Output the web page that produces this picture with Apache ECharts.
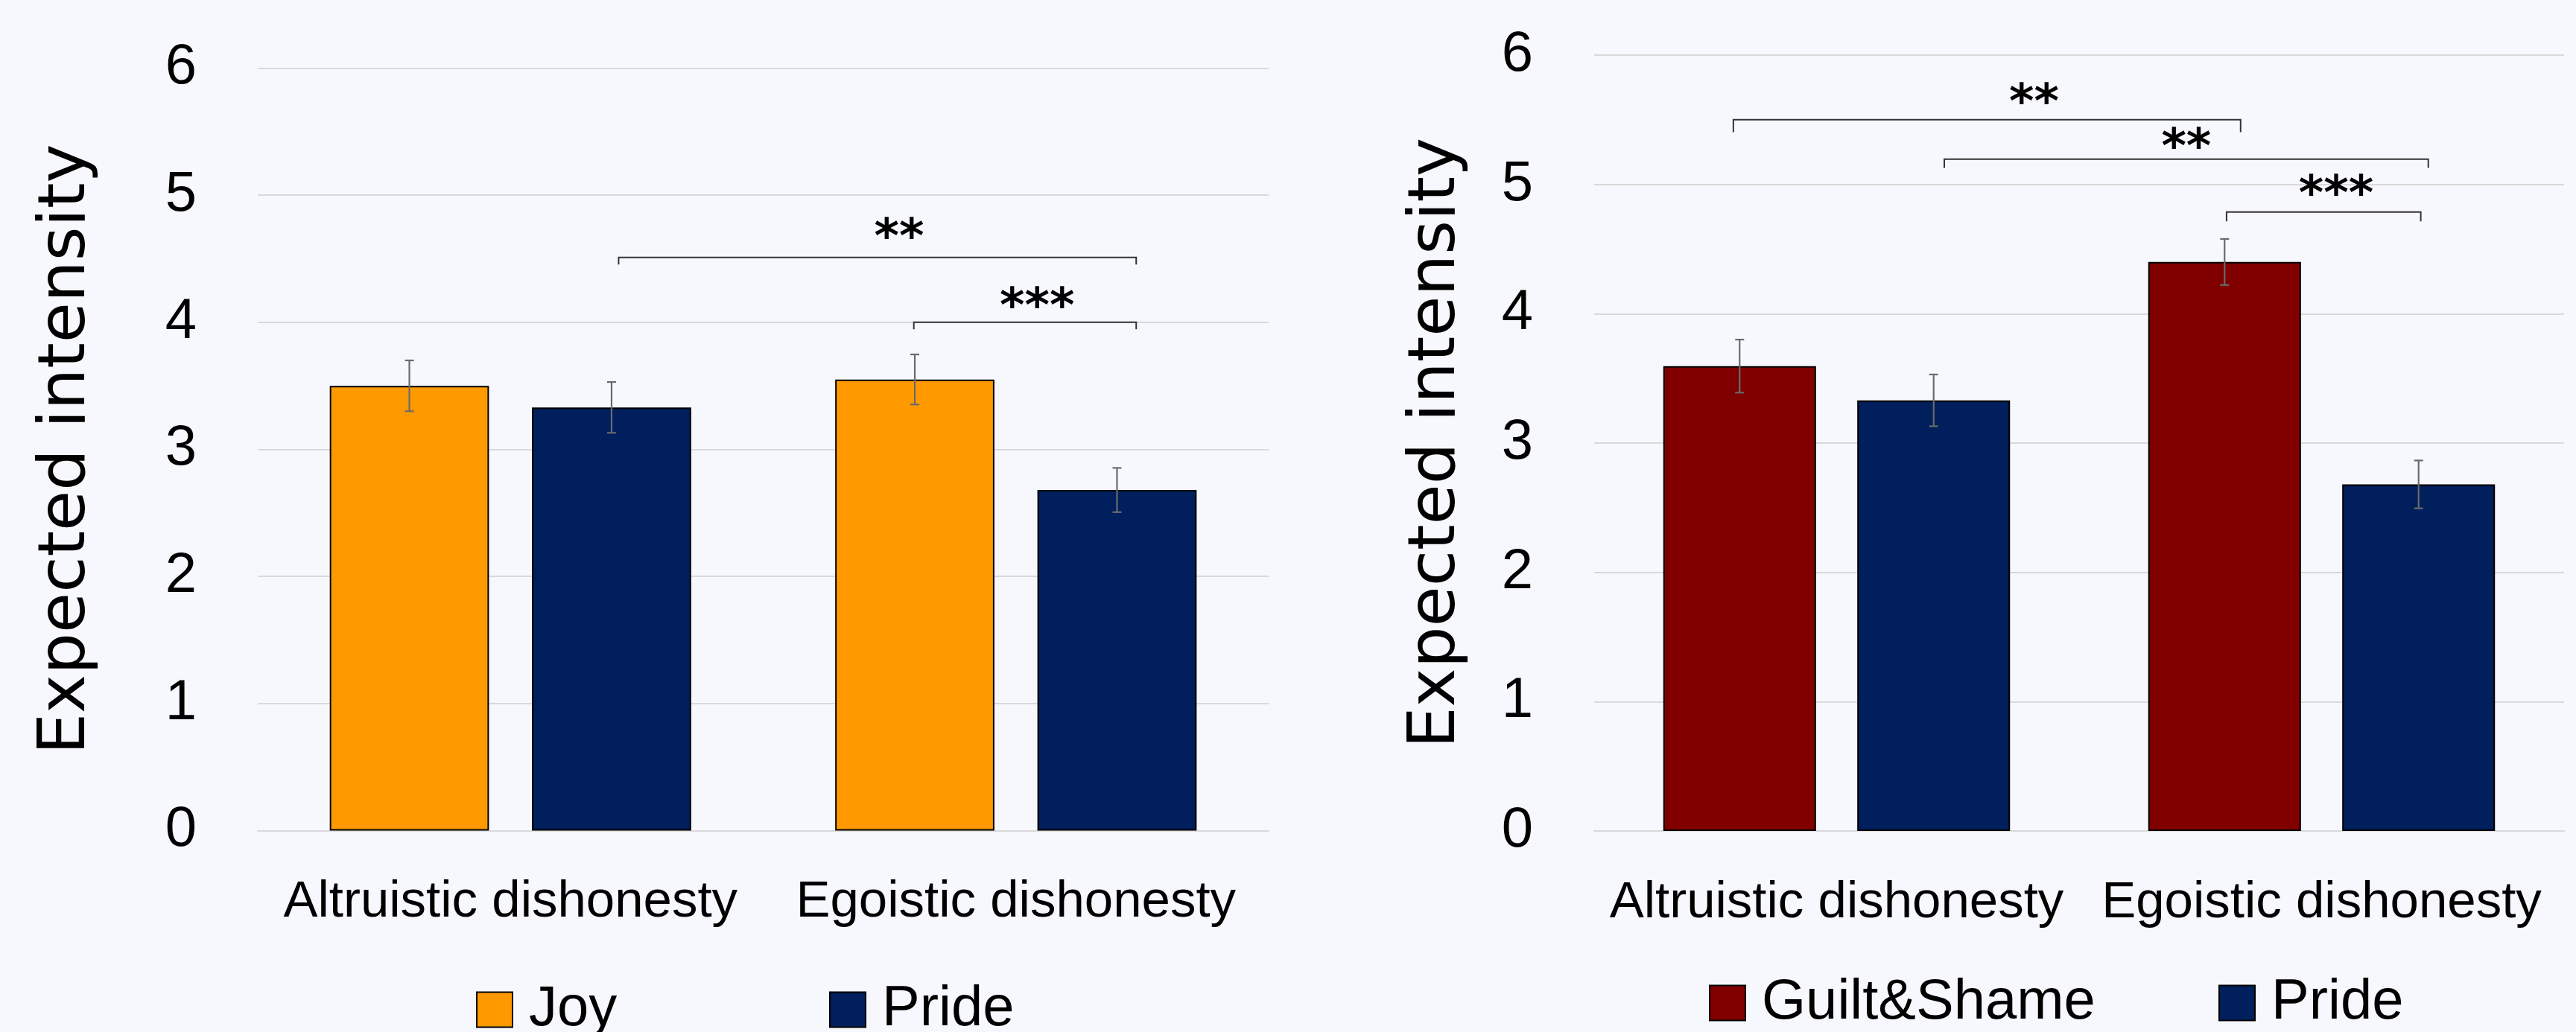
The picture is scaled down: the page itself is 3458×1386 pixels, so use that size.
<!DOCTYPE html>
<html><head><meta charset="utf-8">
<script src="https://cdn.jsdelivr.net/npm/echarts@6/dist/echarts.min.js"></script>
<style>html,body{margin:0;padding:0;background:#F7F8FE;} #c{width:3458px;height:1386px;}</style>
</head><body><div id="c"></div>
<script>
// ---------- data ----------
const categories = ['Altruistic dishonesty', 'Egoistic dishonesty'];
const yTicks = [0, 1, 2, 3, 4, 5, 6];
// left panel
const joy = [3.50, 3.55];
const joyErr = [0.20, 0.197];
const prideLeft = [3.33, 2.68];
const prideLeftErr = [0.20, 0.174];
// right panel
const guiltShame = [3.595, 4.40];
const guiltShameErr = [0.205, 0.178];
const prideRight = [3.33, 2.68];
const prideRightErr = [0.20, 0.185];
// significance brackets: [x1, x2, y, drop, labelX, labelY] (x in category units, y in axis units)
const bracketsLeft = [[0.214, 1.238, 4.51, 0.055, 0.769, 4.646], [0.798, 1.238, 4.00, 0.055, 1.042, 4.104]];
const bracketsLeftLabels = ['**', '***'];
const bracketsRight = [[-0.213, 0.833, 5.50, 0.096, 0.407, 5.614], [0.222, 1.220, 5.196, 0.069, 0.721, 5.269], [0.804, 1.2045, 4.787, 0.073, 1.03, 4.906]];
const bracketsRightLabels = ['**', '**', '***'];

// ---------- style ----------
const BAR_W = 0.315, BAR_GAP = 0.27;
const OFFSET = (BAR_W + BAR_W * BAR_GAP) / 2;
const ORANGE = '#FF9900', NAVY = '#001F5C', RED = '#800000';
const GRID_C = '#D9D9D9';
const SANS = 'Liberation Sans, Arial, sans-serif';

function errData(vals, errs, sign) {
  return vals.map((v, i) => [i, v - errs[i], v + errs[i], sign]);
}
function errorRender(params, api) {
  const cat = api.value(0), lo = api.value(1), hi = api.value(2), sign = api.value(3);
  const a = api.coord([cat, lo]), b = api.coord([cat, hi]);
  const band = api.size([1, 0])[0];
  const x = a[0] + sign * OFFSET * band;
  const cap = 6;
  const st = { stroke: '#6A6A6A', lineWidth: 2.2 };
  return { type: 'group', children: [
    { type: 'line', shape: { x1: x, y1: a[1], x2: x, y2: b[1] }, style: st },
    { type: 'line', shape: { x1: x - cap, y1: a[1], x2: x + cap, y2: a[1] }, style: st },
    { type: 'line', shape: { x1: x - cap, y1: b[1], x2: x + cap, y2: b[1] }, style: st }
  ]};
}
function makeBracketRender(labels) {
  return function (params, api) {
    const y = api.value(1), x1 = api.value(2), x2 = api.value(3), drop = api.value(4), lx = api.value(5), ly = api.value(6);
    const c0 = api.coord([0, y]);
    const band = api.size([1, 0])[0];
    const yd = api.coord([0, y - drop])[1];
    const lyp = api.coord([0, ly])[1];
    const p1 = c0[0] + x1 * band, p2 = c0[0] + x2 * band, pl = c0[0] + lx * band;
    return { type: 'group', children: [
      { type: 'polyline', shape: { points: [[p1, yd], [p1, c0[1]], [p2, c0[1]], [p2, yd]] }, style: { stroke: '#333', lineWidth: 2, fill: null } },
      { type: 'text', x: pl, y: lyp, style: { text: labels[params.dataIndex], fill: '#000', font: 'bold 64px "DejaVu Sans"', align: 'center', verticalAlign: 'middle' } }
    ]};
  };
}
function bracketData(arr) { return arr.map(b => [0, b[2], b[0], b[1], b[3], b[4], b[5]]); }

function yAxis(gridIndex, nameGap) {
  return {
    type: 'value', gridIndex, min: yTicks[0], max: yTicks[yTicks.length - 1], interval: 1,
    name: 'Expected intensity', nameLocation: 'middle', nameRotate: 90, nameGap,
    nameTextStyle: { fontFamily: 'DejaVu Sans', fontSize: 88, color: '#000' },
    axisLine: { show: false }, axisTick: { show: false },
    axisLabel: { fontFamily: SANS, fontSize: 76, color: '#000', margin: 82 },
    splitLine: { lineStyle: { color: GRID_C, width: 2 } }
  };
}
function xAxis(gridIndex) {
  return {
    type: 'category', gridIndex, data: categories,
    axisLine: { lineStyle: { color: GRID_C, width: 2 } }, axisTick: { show: false },
    axisLabel: { interval: 0, fontFamily: SANS, fontSize: 69, color: '#000', margin: 62, lineHeight: 69 }
  };
}
function bar(name, data, color, idx) {
  return { type: 'bar', name, data, xAxisIndex: idx, yAxisIndex: idx,
    barWidth: (BAR_W * 100) + '%', barGap: (BAR_GAP * 100) + '%',
    itemStyle: { color, borderColor: '#000', borderWidth: 2 } };
}
function legend(name, left, top) {
  return { data: [name], left, top, padding: 0, itemWidth: 48, itemHeight: 47, icon: 'rect',
    itemStyle: { borderColor: '#000', borderWidth: 2 },
    textStyle: { fontFamily: SANS, fontSize: 76, color: '#000', lineHeight: 76, padding: [0, 0, 0, 17] },
    selectedMode: false };
}

const chart = echarts.init(document.getElementById('c'));
chart.setOption({
  backgroundColor: '#F7F8FE',
  animation: false,
  grid: [
    { left: 346, top: 91.5, width: 1357, height: 1024, outerBoundsMode: 'none' },
    { left: 2140, top: 74, width: 1302, height: 1042, outerBoundsMode: 'none' }
  ],
  xAxis: [xAxis(0), xAxis(1)],
  yAxis: [yAxis(0, 212), yAxis(1, 167)],
  legend: [legend('Joy', 639, 1318), legend('Pride', 1113, 1318), legend('Guilt&Shame', 2294, 1309), legend('Pride', 2978, 1309)],
  series: [
    bar('Joy', joy, ORANGE, 0),
    bar('Pride', prideLeft, NAVY, 0),
    bar('Guilt&Shame', guiltShame, RED, 1),
    bar('Pride', prideRight, NAVY, 1),
    { type: 'custom', xAxisIndex: 0, yAxisIndex: 0, renderItem: errorRender, data: errData(joy, joyErr, -1).concat(errData(prideLeft, prideLeftErr, 1)), z: 5, encode: { x: 0, y: [1, 2] } },
    { type: 'custom', xAxisIndex: 1, yAxisIndex: 1, renderItem: errorRender, data: errData(guiltShame, guiltShameErr, -1).concat(errData(prideRight, prideRightErr, 1)), z: 5, encode: { x: 0, y: [1, 2] } },
    { type: 'custom', xAxisIndex: 0, yAxisIndex: 0, renderItem: makeBracketRender(bracketsLeftLabels), data: bracketData(bracketsLeft), z: 5, encode: { x: 0, y: 1 } },
    { type: 'custom', xAxisIndex: 1, yAxisIndex: 1, renderItem: makeBracketRender(bracketsRightLabels), data: bracketData(bracketsRight), z: 5, encode: { x: 0, y: 1 } }
  ]
});
</script></body></html>
